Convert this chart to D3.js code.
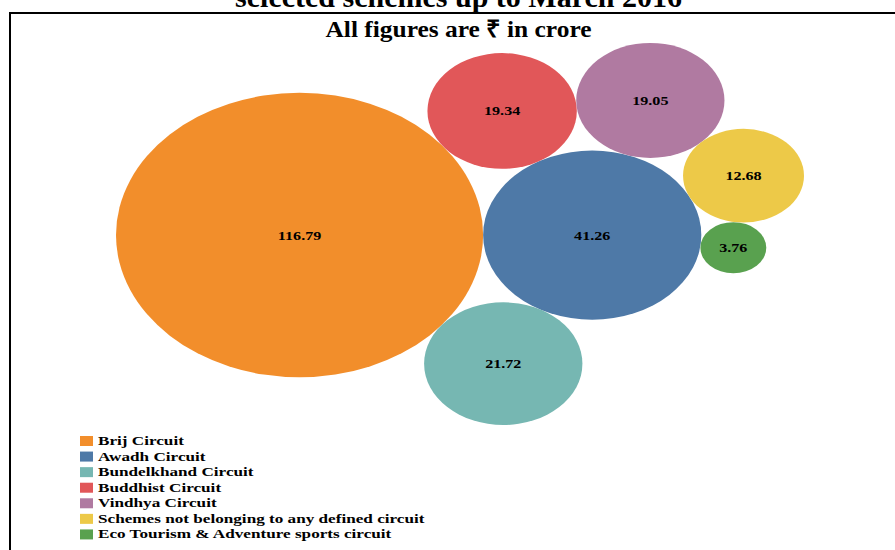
<!DOCTYPE html>
<html>
<head>
<meta charset="utf-8">
<script src="https://cdn.jsdelivr.net/npm/d3@7"></script>
<style>
  html, body { margin: 0; padding: 0; background: #fff; }
  svg { display: block; }
  text { font-family: "Liberation Serif", "Times New Roman", serif; font-weight: bold; fill: #000; }
</style>
</head>
<body>
<svg id="chart" width="895" height="550"></svg>
<script>
// ---- data ----
const categories = [
  "Brij Circuit",
  "Awadh Circuit",
  "Bundelkhand Circuit",
  "Buddhist Circuit",
  "Vindhya Circuit",
  "Schemes not belonging to any defined circuit",
  "Eco Tourism & Adventure sports circuit"
];
const values = [116.79, 41.26, 21.72, 19.34, 19.05, 12.68, 3.76];
const colors = ["#F28E2B", "#4E79A7", "#76B7B2", "#E15759", "#B07AA1", "#EDC948", "#59A14F"];
// packing structure: each bubble touches two earlier bubbles (index a, index b, side)
const touches = [null, [0], [0, 1, 1], [0, 1, -1], [3, 1, -1], [4, 1, -1], [5, 1, -1]];
const titleLines = ["selected schemes up to March 2016", "All figures are \u20B9 in crore"];

// ---- layout ----
const W = 895, H = 550;
const plot = { left: 116, right: 804, top: 43, bottom: 425 };
const svg = d3.select("#chart");

const rUnit = d3.scaleSqrt().domain([0, d3.max(values)]).range([0, 1]);
const nodes = values.map((v, i) => ({ v, i, r: rUnit(v), x: 0, y: 0 }));

function place(a, b, c, side) {
  const dx = b.x - a.x, dy = b.y - a.y, d = Math.hypot(dx, dy);
  const ra = a.r + c.r, rb = b.r + c.r;
  const t = (d * d + ra * ra - rb * rb) / (2 * d);
  const h = Math.sqrt(Math.max(0, ra * ra - t * t));
  const ux = dx / d, uy = dy / d;
  c.x = a.x + t * ux - side * h * uy;
  c.y = a.y + t * uy + side * h * ux;
}
nodes.forEach((n, i) => {
  const t = touches[i];
  if (!t) { n.x = 0; n.y = 0; return; }
  if (t.length === 1) { const a = nodes[t[0]]; n.x = a.x + a.r + n.r; n.y = a.y; return; }
  place(nodes[t[0]], nodes[t[1]], n, t[2]);
});

const x = d3.scaleLinear()
  .domain([d3.min(nodes, n => n.x - n.r), d3.max(nodes, n => n.x + n.r)])
  .range([plot.left, plot.right]);
const y = d3.scaleLinear()
  .domain([d3.min(nodes, n => n.y - n.r), d3.max(nodes, n => n.y + n.r)])
  .range([plot.top, plot.bottom]);
const kx = (x.range()[1] - x.range()[0]) / (x.domain()[1] - x.domain()[0]);
const ky = (y.range()[1] - y.range()[0]) / (y.domain()[1] - y.domain()[0]);

// frame
svg.append("rect")
  .attr("x", 10).attr("y", 13)
  .attr("width", 920).attr("height", 600)
  .attr("fill", "none").attr("stroke", "#000").attr("stroke-width", 2);

// titles
svg.append("text")
  .attr("transform", `translate(${W / 2 + 11},7) scale(1,1)`)
  .attr("text-anchor", "middle")
  .style("font-size", "30px")
  .text(titleLines[0]);
svg.append("text")
  .attr("transform", `translate(${W / 2 + 11},37) scale(1.06,1)`)
  .attr("text-anchor", "middle")
  .style("font-size", "24px")
  .text(titleLines[1]);

// bubbles
const g = svg.append("g");
g.selectAll("ellipse")
  .data(nodes)
  .join("ellipse")
  .attr("cx", d => x(d.x))
  .attr("cy", d => y(d.y))
  .attr("rx", d => d.r * kx)
  .attr("ry", d => d.r * ky)
  .attr("fill", d => colors[d.i]);

g.selectAll("text.val")
  .data(nodes)
  .join("text")
  .attr("class", "val")
  .attr("transform", d => `translate(${x(d.x)},${y(d.y) + 4.5}) scale(1.24,1)`)
  .attr("text-anchor", "middle")
  .style("font-size", "13px")
  .text(d => d3.format(".2f")(d.v));

// legend
const legendY = d3.scaleBand().domain(categories).range([433, 542]);
const lg = svg.append("g").selectAll("g")
  .data(categories)
  .join("g")
  .attr("transform", d => `translate(80,${legendY(d)})`);
lg.append("rect")
  .attr("x", 0).attr("y", 3)
  .attr("width", 13).attr("height", 10)
  .attr("fill", (d, i) => colors[i]);
lg.append("text")
  .attr("transform", "translate(18,12) scale(1.43,1)")
  .style("font-size", "12px")
  .text(d => d);
</script>
</body>
</html>
